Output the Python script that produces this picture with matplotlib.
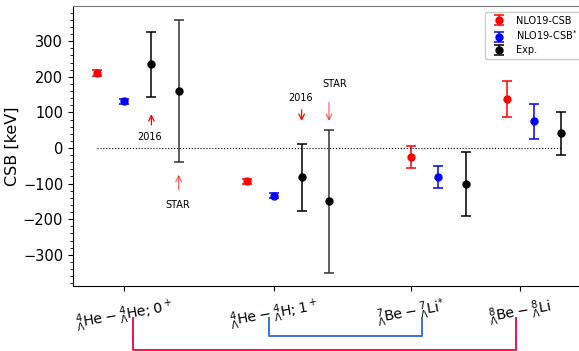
import matplotlib
matplotlib.use("Agg")
import matplotlib.pyplot as plt
from matplotlib.ticker import MultipleLocator

# x positions (arbitrary units)
x_nlo = [0.0, 5.5, 11.5, 15.0]
x_nlos = [1.0, 6.5, 12.5, 16.0]
x_exp = [2.0, 7.5, 13.5, 17.0]
x_star = [3.0, 8.5]

nlo = [211, -94, -26, 137]
nlo_err = [7.5, 7.5, 31, 50]
nlos = [131, -134, -82, 75]
nlos_err = [7.5, 7.5, 31, 50]
exp = [235, -82, -100, 41]
exp_err = [92, 94, 90, 60]
star = [161, -150]
star_err = [200, 200]

tick_pos = [1.0, 6.5, 11.5, 15.5]
tick_labels = [r'$^{4}_{\Lambda}\mathrm{He} - ^{4}_{\Lambda}\mathrm{He}; 0^+$',
               r'$^{4}_{\Lambda}\mathrm{He} - ^{4}_{\Lambda}\mathrm{H}; 1^+$',
               r'$^{7}_{\Lambda}\mathrm{Be} - ^{7}_{\Lambda}\mathrm{Li}^{*}$',
               r'$^{8}_{\Lambda}\mathrm{Be} - ^{8}_{\Lambda}\mathrm{Li}$']

fig = plt.figure(figsize=(5.79, 3.51), dpi=100)
ax = fig.add_axes([73/579, 1-285.7/351, 530/579, 279.7/351])

kw = dict(fmt='o', markersize=5, capsize=3.5, elinewidth=1.1, capthick=1.1)
ax.errorbar(x_nlo, nlo, yerr=nlo_err, color='red', label='NLO19-CSB', **kw)
ax.errorbar(x_nlos, nlos, yerr=nlos_err, color='blue', label=r'NLO19-CSB$^{*}$', **kw)
ax.errorbar(x_exp, exp, yerr=exp_err, color='black', label='Exp.', **kw)
ax.errorbar(x_star, star, yerr=star_err, color='black', ecolor='#333333', **kw)

ax.plot([x_nlo[0], x_exp[-1]], [0, 0], ls=':', color='black', lw=0.8)

# annotations
ap = dict(arrowstyle='->', color='red', lw=0.9)
ap2 = dict(arrowstyle='->', color='red', lw=0.9, alpha=0.6)
ax.annotate('', xy=(x_exp[0], 103), xytext=(x_exp[0], 57), arrowprops=ap)
ax.text(x_exp[0] - 0.05, 30, '2016', fontsize=7, ha='center', va='center')
ax.annotate('', xy=(x_star[0], -67), xytext=(x_star[0], -125), arrowprops=ap2)
ax.text(x_star[0] - 0.05, -161, 'STAR', fontsize=7, ha='center', va='center')
ax.annotate('', xy=(x_exp[1], 68), xytext=(x_exp[1], 115), arrowprops=ap)
ax.text(x_exp[1] - 0.05, 140, '2016', fontsize=7, ha='center', va='center')
ax.annotate('', xy=(x_star[1], 68), xytext=(x_star[1], 136), arrowprops=ap2)
ax.text(x_star[1] + 0.2, 181, 'STAR', fontsize=7, ha='center', va='center')

ax.set_xlim(-0.867, (73 + 530 - 96.7) / 27.33)
ax.set_ylim(-387, 399)
ax.set_xticks(tick_pos)
ax.set_xticklabels(tick_labels, rotation=10, fontsize=10.2)
ax.yaxis.set_minor_locator(MultipleLocator(20))
ax.tick_params(axis='y', labelsize=10.5)
ax.set_ylabel('CSB [keV]', fontsize=11.5, labelpad=2)
ax.spines['top'].set_color('#777777')

ax.legend(loc='upper left', fontsize=7, framealpha=1, labelspacing=0.3,
          bbox_to_anchor=(485/579, 1-11.7/351), bbox_transform=fig.transFigure,
          borderaxespad=0)

# brackets below the axis
trans = ax.get_xaxis_transform()
ax.plot([1.32, 1.32, 15.33, 15.33], [-0.1166, -0.23, -0.23, -0.1166],
        color='#ff0a50', lw=1.4, transform=trans, clip_on=False)
ax.plot([6.32, 6.32, 11.89, 11.89], [-0.1166, -0.18, -0.18, -0.1166],
        color='#3a6ef0', lw=1.4, transform=trans, clip_on=False)

fig.savefig('out.png', dpi=100)
